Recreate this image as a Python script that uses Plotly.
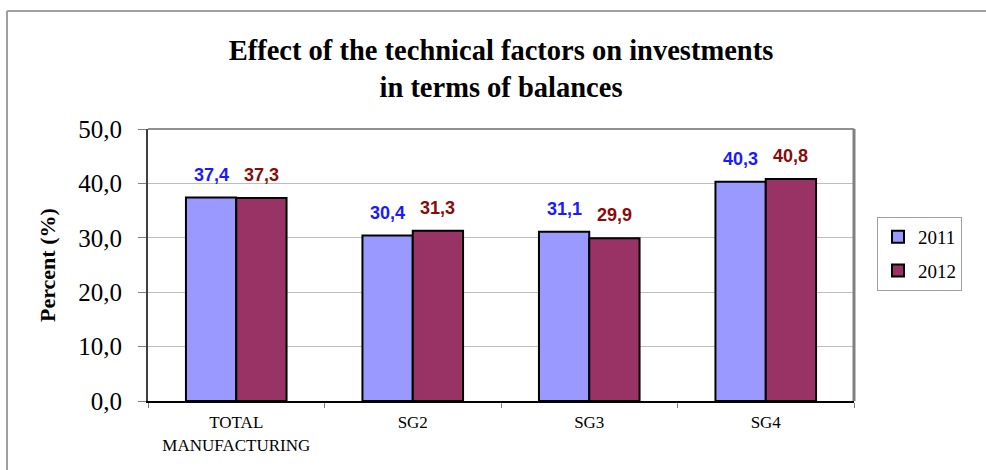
import plotly.graph_objects as go

categories = ["TOTAL<br>MANUFACTURING", "SG2", "SG3", "SG4"]
values_2011 = [37.4, 30.4, 31.1, 40.3]
values_2012 = [37.3, 31.3, 29.9, 40.8]
y_ticks = [0, 10, 20, 30, 40, 50]
y_tick_labels = ["0,0", "10,0", "20,0", "30,0", "40,0", "50,0"]

def fmt(v):
    return f"{v:.1f}".replace(".", ",")

fig = go.Figure()
fig.add_trace(go.Bar(
    name="2011", x=categories, y=values_2011, legendgroup="a",
    marker=dict(color="#9999FF", line=dict(color="#000000", width=2)),
))
fig.add_trace(go.Bar(
    name="2012", x=categories, y=values_2012, legendgroup="b",
    marker=dict(color="#993366", line=dict(color="#000000", width=2)),
))

# value labels
for vals, shift, color in [(values_2011, -25, "#1A1AFF"), (values_2012, 25, "#8B0A0A")]:
    for c, v in zip(categories, vals):
        fig.add_annotation(
            x=c, y=v, xref="x", yref="y", text=f"<b>{fmt(v)}</b>",
            showarrow=False, xshift=shift, yshift=11, yanchor="bottom",
            font=dict(family="Liberation Sans, Arial", size=18, color=color),
        )

fig.update_layout(
    width=986, height=470,
    margin=dict(l=148, r=132, t=129, b=69, autoexpand=False),
    paper_bgcolor="white", plot_bgcolor="white",
    barmode="group", bargap=0.43, bargroupgap=0,
    title=dict(
        text="<b>Effect of the technical factors on investments<br>in terms of balances</b>",
        x=0.5, xref="paper", y=(470 - 59.5) / 470, yanchor="middle",
        font=dict(family="Liberation Serif, Times New Roman", size=28.5, color="#000000"),
    ),
    font=dict(family="Liberation Serif, Times New Roman", color="#000000"),
    showlegend=True,
    legend=dict(
        x=(877 - 148) / 706, y=(401 - 217) / 272, xanchor="left", yanchor="top",
        bordercolor="#A0A0A0", borderwidth=1, bgcolor="white",
        font=dict(family="Liberation Serif, Times New Roman", size=19, color="#000000"),
        itemwidth=30, tracegroupgap=6,
    ),
)

fig.update_yaxes(
    range=[0, 50], tickvals=y_ticks, ticktext=y_tick_labels,
    tickfont=dict(family="Liberation Serif, Times New Roman", size=25, color="#000000"),
    showgrid=True, gridcolor="#BEBEBE", gridwidth=1,
    showline=True, linecolor="#404040", linewidth=2,
    ticks="outside", ticklen=8, tickcolor="#808080", ticklabelstandoff=11,
    automargin=False, zeroline=False,
)
fig.update_xaxes(
    tickfont=dict(family="Liberation Serif, Times New Roman", size=17, color="#000000"),
    showline=True, linecolor="#000000", linewidth=2,
    ticks="outside", ticklen=5, tickcolor="#808080", tickson="boundaries",
    ticklabelstandoff=5,
    showgrid=False, automargin=False,
)

# y-axis title
fig.add_annotation(
    x=(47 - 148) / 706, y=0.5, xref="paper", yref="paper", text="<b>Percent (%)</b>",
    textangle=-90, showarrow=False, xanchor="center", yanchor="middle",
    font=dict(family="Liberation Serif, Times New Roman", size=22, color="#000000"),
)

# plot area border (top and right)
fig.add_shape(type="line", xref="paper", yref="paper", x0=0, x1=1, y0=1, y1=1,
              line=dict(color="#909090", width=2))
fig.add_shape(type="line", xref="paper", yref="paper", x0=1, x1=1, y0=0, y1=1,
              line=dict(color="#808080", width=3))
# outer chart border (top and left visible)
fig.add_shape(type="line", xref="paper", yref="paper",
              x0=(7 - 148) / 706, x1=(986 - 148) / 706, y0=(401 - 11) / 272, y1=(401 - 11) / 272,
              line=dict(color="#A0A0A0", width=2))
fig.add_shape(type="line", xref="paper", yref="paper",
              x0=(7 - 148) / 706, x1=(7 - 148) / 706, y0=(401 - 11) / 272, y1=(401 - 470) / 272,
              line=dict(color="#A0A0A0", width=2))

fig.write_html("out.html", config={"displayModeBar": False},
               post_script="document.body.style.margin='0';")
